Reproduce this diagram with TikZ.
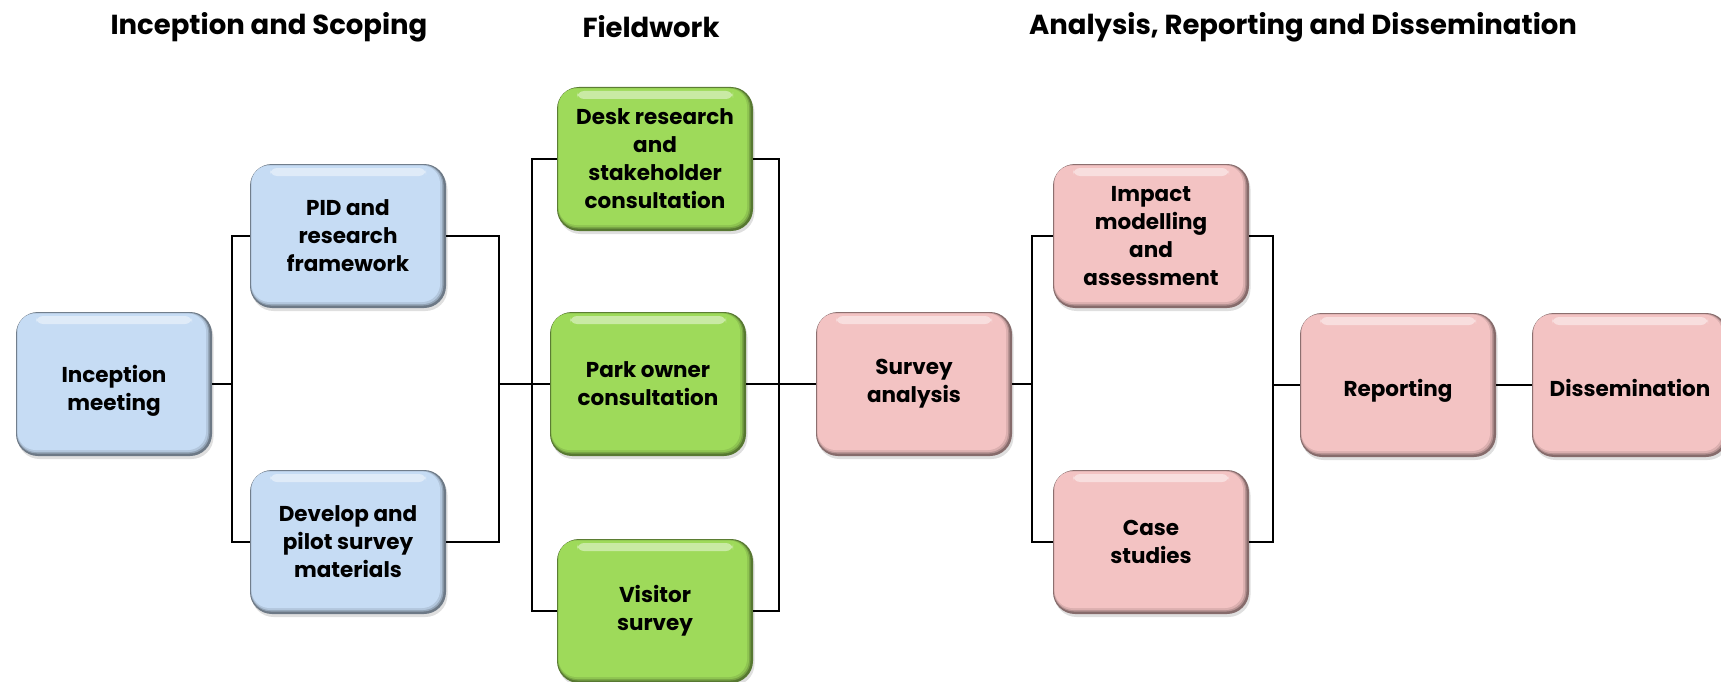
\documentclass[tikz,border=0pt]{standalone}
\usepackage{fontspec}
\setmainfont{Poppins}
\usetikzlibrary{shadows}
\definecolor{bluebox}{HTML}{C6DCF4}
\definecolor{greenbox}{HTML}{9EDA5A}
\definecolor{pinkbox}{HTML}{F3C3C3}
\newcommand{\boxfont}{\fontsize{21.5}{28}\selectfont\bfseries}
\newcommand{\titlefont}{\fontsize{27.5}{31}\selectfont\bfseries}
\newcommand{\lowstrut}[1]{\rule{0pt}{#1}}
\tikzset{
  stagebox/.style={rounded corners=22pt, minimum width=196pt, minimum height=144pt,
    inner sep=3pt, align=center, font=\boxfont, text=black,
    fill=#1!55!black,
    drop shadow={opacity=0.25, shadow xshift=1.5pt, shadow yshift=-3pt},
    path picture={
      \fill[#1!75!black, rounded corners=20pt]
        ([xshift=0.8pt,yshift=-0.8pt]path picture bounding box.north west) rectangle
        ([xshift=-2.5pt,yshift=2.5pt]path picture bounding box.south east);
      \fill[#1!90!black, rounded corners=19pt]
        ([xshift=1.2pt,yshift=-1.2pt]path picture bounding box.north west) rectangle
        ([xshift=-4pt,yshift=4pt]path picture bounding box.south east);
      \fill[#1, rounded corners=18pt]
        ([xshift=1.5pt,yshift=-1.5pt]path picture bounding box.north west) rectangle
        ([xshift=-6pt,yshift=6pt]path picture bounding box.south east);
      \fill[white, opacity=0.45, rounded corners=7pt]
        ([xshift=20pt,yshift=-4pt]path picture bounding box.north west) rectangle
        ([xshift=-20pt,yshift=-12pt]path picture bounding box.north east);
    }},
  link/.style={draw=black, line width=1.4pt},
  title/.style={font=\titlefont, text=black}
}
\begin{document}
\begin{tikzpicture}[x=1pt,y=-1pt]
\useasboundingbox (0,0) rectangle (1721,682);
% titles
\node[title] (t1) at (269,27) {Inception and Scoping};
\node[title] (t2) at (651,27) {Fieldwork};
\node[title] (t3) at (1303,27) {Analysis, Reporting and Dissemination};
% boxes
\node[stagebox=bluebox] (ins) at (114,384) {\lowstrut{30pt}Inception\\meeting};
\node[stagebox=bluebox] (pid) at (348,236) {PID and\\research\\framework};
\node[stagebox=bluebox] (dev) at (348,542) {Develop and\\pilot survey\\materials};
\node[stagebox=greenbox] (desk) at (655,159) {Desk research\\and\\stakeholder\\consultation};
\node[stagebox=greenbox] (park) at (648,384) {Park owner\\consultation};
\node[stagebox=greenbox] (vis) at (655,611) {Visitor\\survey};
\node[stagebox=pinkbox] (sur) at (914,384) {Survey\\analysis};
\node[stagebox=pinkbox] (imp) at (1151,236) {Impact\\modelling\\and\\assessment};
\node[stagebox=pinkbox] (cas) at (1151,542) {Case\\studies};
\node[stagebox=pinkbox] (rep) at (1398,385) {\lowstrut{28pt}Reporting};
\node[stagebox=pinkbox] (dis) at (1630,385) {\lowstrut{24pt}Dissemination};
% junctions
\coordinate (j1) at (232,384);
\coordinate (j2) at (499,384);
\coordinate (j3) at (532,384);
\coordinate (j4) at (779,384);
\coordinate (j5) at (1032,384);
\coordinate (j6) at (1273,385);
% connectors
\draw[link] (ins.east) -- (j1);
\draw[link] (pid.west) -| (j1);
\draw[link] (dev.west) -| (j1);
\draw[link] (pid.east) -| (j2);
\draw[link] (dev.east) -| (j2);
\draw[link] (j2) -- (park.west);
\draw[link] (desk.west) -| (j3);
\draw[link] (vis.west) -| (j3);
\draw[link] (desk.east) -| (j4);
\draw[link] (vis.east) -| (j4);
\draw[link] (park.east) -- (sur.west);
\draw[link] (sur.east) -- (j5);
\draw[link] (imp.west) -| (j5);
\draw[link] (cas.west) -| (j5);
\draw[link] (imp.east) -| (j6);
\draw[link] (cas.east) -| (j6);
\draw[link] (j6) -- (rep.west);
\draw[link] (rep.east) -- (dis.west);
\end{tikzpicture}
\end{document}
